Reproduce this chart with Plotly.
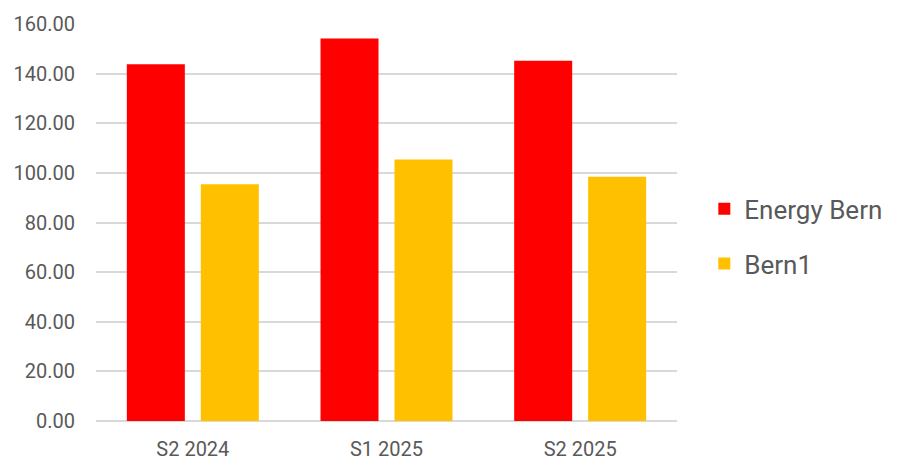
import plotly.graph_objects as go

categories = ["S2 2024", "S1 2025", "S2 2025"]
energy_bern = [143.8, 154.2, 145.2]
bern1 = [95.4, 105.4, 98.4]

fig = go.Figure()

fig.add_trace(go.Bar(
    x=categories, y=energy_bern, name="Energy Bern",
    marker=dict(color="#ff0000", line=dict(width=0)),
    legendgroup="a",
))
fig.add_trace(go.Bar(
    x=categories, y=bern1, name="Bern1",
    marker=dict(color="#ffc000", line=dict(width=0)),
    legendgroup="b",
))

# the page body adds 8px of margin, so the margins are shifted to compensate
fig.update_layout(
    width=900, height=470,
    margin=dict(l=88, r=231, t=16, b=57, autoexpand=False),
    paper_bgcolor="white", plot_bgcolor="white",
    barmode="group", bargap=0.236, bargroupgap=0.216,
    font=dict(family="Roboto", color="#595959", size=20),
    legend=dict(
        x=1.047, xanchor="left", y=0.465, yanchor="middle",
        font=dict(size=26, color="#595959"),
        tracegroupgap=18, traceorder="grouped",
    ),
    hovermode=False,
)
fig.update_xaxes(
    automargin=False,
    showgrid=False, showline=False, ticks="",
    ticklabelstandoff=14,
    tickfont=dict(size=20, color="#595959"),
)
fig.update_yaxes(
    automargin=False,
    range=[0, 160], dtick=20, tickformat=".2f",
    showgrid=True, gridcolor="#d9d9d9", gridwidth=1.5,
    zeroline=True, zerolinecolor="#d9d9d9", zerolinewidth=1.5,
    showline=False, ticks="", ticklabelstandoff=20,
    tickfont=dict(size=20, color="#595959"),
)

fig.write_html("out.html")
